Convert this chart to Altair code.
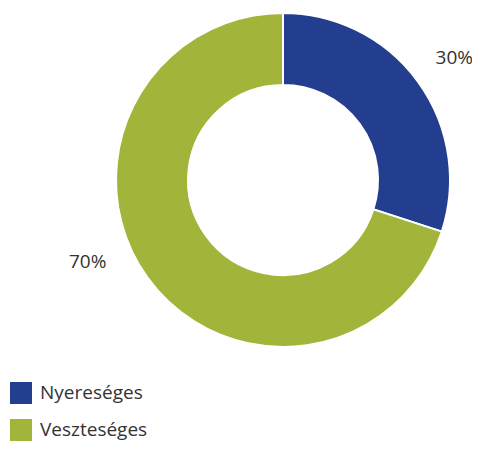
import altair as alt
import pandas as pd

categories = ["Nyereséges", "Veszteséges"]
values = [30, 70]
labels = ["30%", "70%"]
colors = ["#233E8E", "#A2B43A"]

df = pd.DataFrame({"cat": categories, "val": values, "label": labels, "ord": [0, 1]})

color = alt.Color(
    "cat:N",
    scale=alt.Scale(domain=categories, range=colors),
    sort=categories,
    legend=alt.Legend(
        title=None,
        orient="none",
        legendX=2,
        legendY=374,
        symbolType="square",
        symbolSize=484,
        symbolStrokeWidth=0,
        labelFontSize=19,
        labelFont="Open Sans",
        labelColor="#333333",
        labelOffset=8,
        rowPadding=15,
        direction="vertical",
    ),
)

arc = alt.Chart(df).mark_arc(
    outerRadius=167, innerRadius=95, stroke="white", strokeWidth=2
).encode(
    theta=alt.Theta("val:Q", stack=True, scale=alt.Scale(domain=[0, 100])),
    order=alt.Order("ord:Q"),
    color=color,
    x=alt.value(275),
    y=alt.value(172),
)

text_base = (
    alt.Chart(df)
    .transform_window(cum="sum(val)", sort=[alt.SortField("ord")])
    .transform_calculate(mid="datum.cum - datum.val / 2")
)

t30 = text_base.transform_filter(alt.datum.ord == 0).mark_text(
    radius=213, font="Open Sans", fontSize=19, color="#333333", dx=-1, dy=3
).encode(
    theta=alt.Theta("mid:Q", stack=None),
    text="label:N",
    x=alt.value(275),
    y=alt.value(172),
)

t70 = text_base.transform_filter(alt.datum.ord == 1).mark_text(
    radius=213, font="Open Sans", fontSize=19, color="#333333", dx=-23, dy=-43
).encode(
    theta=alt.Theta("mid:Q", stack=None),
    text="label:N",
    x=alt.value(275),
    y=alt.value(172),
)

chart = alt.layer(arc, t30, t70).properties(
    width=464, height=434, autosize=alt.AutoSizeParams(type="none"), padding=0
).configure_view(stroke=None)

chart.save("out.html", embed_options={"renderer": "svg", "actions": False})
